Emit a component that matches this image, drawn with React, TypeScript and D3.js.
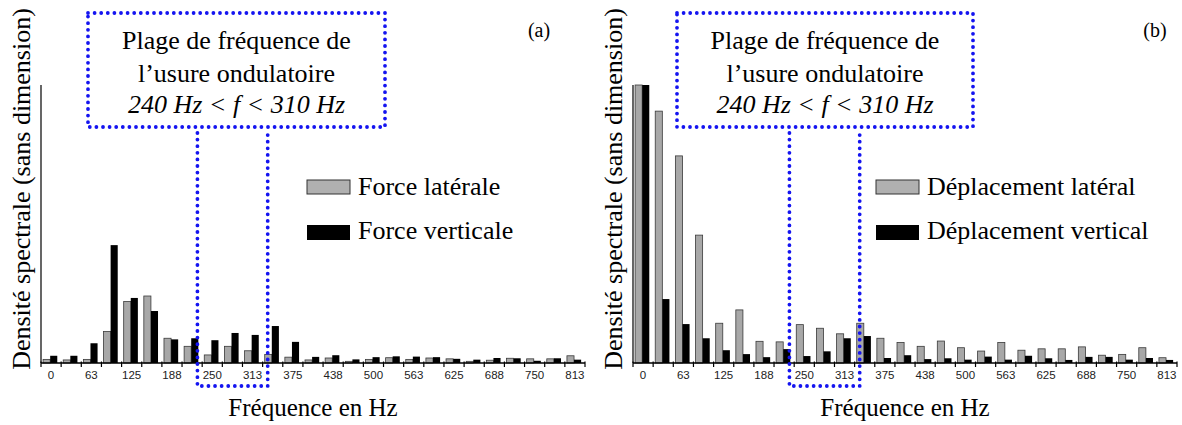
import React from 'react';
import * as d3 from 'd3';

// Frequency bins (Hz) of the spectra
const FREQUENCIES = [0, 31.25, 62.5, 93.75, 125, 156.25, 187.5, 218.75, 250, 281.25, 312.5, 343.75, 375, 406.25, 437.5, 468.75, 500, 531.25, 562.5, 593.75, 625, 656.25, 687.5, 718.75, 750, 781.25, 812.5];
const TICK_LABELS = ['0', '63', '125', '188', '250', '313', '375', '438', '500', '563', '625', '688', '750', '813'];

// (a) forces — dimensionless spectral density (0–100)
const FORCE_LATERALE = [1.3, 1.1, 1.3, 11.3, 22.1, 24.1, 8.9, 6.0, 2.9, 6.0, 4.4, 3.1, 2.1, 1.1, 1.8, 0.6, 1.3, 1.9, 1.3, 1.8, 1.5, 0.6, 1.0, 1.7, 1.5, 1.5, 2.6];
const FORCE_VERTICALE = [2.6, 2.6, 7.1, 42.4, 23.4, 18.7, 8.5, 8.9, 8.2, 10.8, 10.1, 13.3, 7.6, 2.2, 2.8, 1.3, 2.1, 2.4, 2.3, 2.1, 1.5, 1.2, 1.8, 1.7, 0.8, 1.7, 1.2];

// (b) displacements
const DEPL_LATERAL = [100, 90.6, 74.5, 46.0, 14.3, 19.1, 7.8, 7.6, 13.8, 12.5, 10.5, 14.3, 8.9, 7.4, 6.0, 7.9, 5.5, 4.3, 7.4, 4.6, 5.1, 5.1, 5.8, 2.8, 3.1, 5.5, 1.9];
const DEPL_VERTICAL = [100, 23.0, 14.0, 8.9, 4.6, 3.2, 2.1, 5.0, 2.5, 4.2, 8.9, 9.7, 1.8, 2.8, 1.4, 1.7, 1.2, 2.3, 1.2, 2.6, 1.7, 1.1, 2.2, 2.2, 1.2, 1.8, 1.1];

const SERIES_KEYS = ['lat', 'vert'];
// annotation frequency band drawn (visual bounds of the dotted frame)
const BAND_LOW = 227;
const BAND_HIGH = 336;

const SERIF = '"Liberation Serif", "DejaVu Serif", serif';
const SANS = '"Liberation Sans", Arial, sans-serif';
const BLUE = '#1414f0';

interface PanelProps {
  left: number;
  lat: number[];
  vert: number[];
  latLabel: string;
  vertLabel: string;
  letter: string;
  legendX: number;
  boxX0: number;
  boxX1: number;
  letterX: number;
}

function Panel({ left, lat, vert, latLabel, vertLabel, letter, legendX, boxX0, boxX1, letterX }: PanelProps) {
  const top = 85;
  const bottom = 363;
  const width = 544;
  const cats = FREQUENCIES.map(String);
  const x = d3.scaleBand<string>().domain(cats).range([left, left + width]).padding(0);
  const xs = d3.scaleBand<string>().domain(SERIES_KEYS).range([0, x.bandwidth()]).paddingInner(0).paddingOuter(0.42).align(0.35);
  const y = d3.scaleLinear().domain([0, 100]).range([bottom, top]);
  const fx = d3.scaleLinear().domain([0, 812.5]).range([left + x.bandwidth() / 2, left + width - x.bandwidth() / 2]);

  const boundaries = cats.map((c) => x(c) as number).concat([left + width]);
  const dotted = { stroke: BLUE, strokeWidth: 3.8, strokeDasharray: '0 6.6', strokeLinecap: 'round' as const, fill: 'none' };
  const bx0 = fx(BAND_LOW);
  const bx1 = fx(BAND_HIGH);
  const boxTop = 13;
  const boxBottom = 127;
  const cx = (boxX0 + boxX1) / 2;

  return (
    <g>
      {/* bars */}
      {cats.map((c, i) => (
        <g key={c} transform={`translate(${x(c)},0)`}>
          <rect x={xs('lat')} y={y(lat[i])} width={xs.bandwidth()} height={bottom - y(lat[i])} fill="#a8a8a8" stroke="#3a3a3a" strokeWidth={0.8} />
          <rect x={xs('vert')} y={y(vert[i])} width={xs.bandwidth()} height={bottom - y(vert[i])} fill="#000" />
        </g>
      ))}
      {/* y axis */}
      <line x1={left} x2={left} y1={top} y2={bottom} stroke="#000" strokeWidth={1.2} />
      {/* x axis */}
      <line x1={left} x2={left + width} y1={bottom} y2={bottom} stroke="#000" strokeWidth={1.6} />
      {boundaries.map((b, i) => (
        <line key={i} x1={b} x2={b} y1={bottom - 1.5} y2={bottom + 4} stroke="#000" strokeWidth={1.2} />
      ))}
      {cats.map((c, i) =>
        i % 2 === 0 ? (
          <text key={c} x={(x(c) as number) + x.bandwidth() / 2} y={bottom + 16} textAnchor="middle" fontFamily={SANS} fontSize={11.5} fill="#222">
            {TICK_LABELS[i / 2]}
          </text>
        ) : null
      )}
      {/* axis titles */}
      <text x={left + width / 2} y={416} textAnchor="middle" fontFamily={SERIF} fontSize={25} fill="#000">Fréquence en Hz</text>
      <text transform={`translate(${left - 20},${189}) rotate(-90)`} textAnchor="middle" dominantBaseline="central" fontFamily={SERIF} fontSize={26} fill="#000">
        Densité spectrale (sans dimension)
      </text>
      {/* legend */}
      <rect x={legendX} y={180} width={43} height={14} fill="#b0b0b0" stroke="#333" strokeWidth={1} />
      <text x={legendX + 51} y={195} fontFamily={SERIF} fontSize={26} fill="#000">{latLabel}</text>
      <rect x={legendX} y={225} width={43} height={15} fill="#000" />
      <text x={legendX + 51} y={239} fontFamily={SERIF} fontSize={26} fill="#000">{vertLabel}</text>
      {/* letter */}
      <text x={letterX} y={37} textAnchor="middle" fontFamily={SERIF} fontSize={20} fill="#000">{letter}</text>
      {/* annotation box */}
      <rect x={boxX0} y={boxTop} width={boxX1 - boxX0} height={boxBottom - boxTop} {...dotted} />
      <path d={`M${bx0},${boxBottom + 6} V386 H${bx1} V${boxBottom + 6}`} {...dotted} />
      <text x={cx} y={49} textAnchor="middle" fontFamily={SERIF} fontSize={26} fill="#000">Plage de fréquence de</text>
      <text x={cx} y={82} textAnchor="middle" fontFamily={SERIF} fontSize={26} fill="#000">l’usure ondulatoire</text>
      <text x={cx} y={113} textAnchor="middle" fontFamily={SERIF} fontSize={26} fontStyle="italic" fill="#000">
        240 Hz &lt; f &lt; 310 Hz
      </text>
    </g>
  );
}

export default function App() {
  return (
    <svg width={1182} height={425} viewBox="0 0 1182 425" style={{ position: 'absolute', left: 0, top: 0, background: '#fff' }}>
      <rect width={1182} height={425} fill="#fff" />
      <Panel left={41} lat={FORCE_LATERALE} vert={FORCE_VERTICALE} latLabel="Force latérale" vertLabel="Force verticale" letter="(a)" legendX={307} boxX0={88} boxX1={385} letterX={539} />
      <Panel left={633} lat={DEPL_LATERAL} vert={DEPL_VERTICAL} latLabel="Déplacement latéral" vertLabel="Déplacement vertical" letter="(b)" legendX={876} boxX0={677} boxX1={973} letterX={1155} />
    </svg>
  );
}
